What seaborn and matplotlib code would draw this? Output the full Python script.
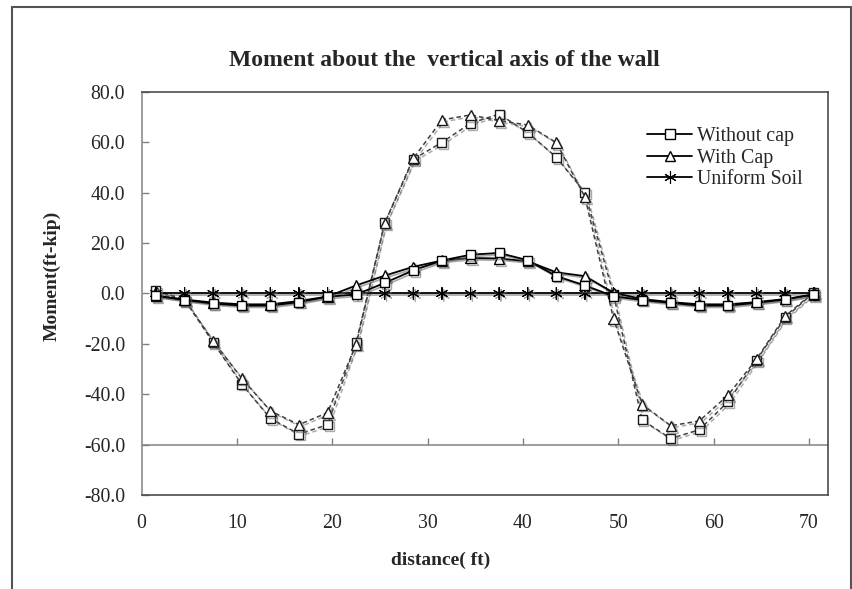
import matplotlib
matplotlib.use("Agg")
import matplotlib.pyplot as plt
import matplotlib.patheffects as pe
from matplotlib.patches import Rectangle
import seaborn as sns

# distance along the wall (ft)
distance = [1.5, 4.5, 7.5, 10.5, 13.5, 16.5, 19.5, 22.5, 25.5, 28.5, 31.5, 34.5,
            37.5, 40.5, 43.5, 46.5, 49.5, 52.5, 55.5, 58.5, 61.5, 64.5, 67.5, 70.5]

# moment (ft-kip), small-amplitude case (solid lines)
without_cap = [-0.8, -2.6, -4.0, -4.8, -4.8, -3.4, -1.3, -0.4, 4.2, 9.2, 13.1, 15.4,
               16.1, 13.2, 6.9, 3.2, -1.1, -2.6, -3.7, -4.8, -4.8, -3.7, -2.4, -0.4]
with_cap = [-1.0, -2.4, -3.6, -4.3, -4.3, -3.0, -1.2, 3.2, 7.1, 10.6, 13.1, 14.1,
            13.9, 12.8, 8.4, 6.9, 0.3, -2.2, -3.4, -4.3, -4.3, -3.4, -2.2, -0.4]
uniform_soil = [0.0] * 24

# moment (ft-kip), large-amplitude case (dashed lines)
without_cap_2 = [1.2, -2.4, -19.5, -36.0, -49.6, -55.8, -52.1, -19.5, 28.0, 53.3, 60.0, 67.6,
                 71.2, 63.9, 54.1, 40.1, -0.5, -50.2, -57.6, -54.1, -43.0, -26.5, -9.6, 0.3]
with_cap_2 = [1.0, -2.5, -18.9, -33.7, -46.6, -52.1, -47.3, -20.2, 28.0, 53.7, 68.9, 70.9,
              68.6, 66.9, 59.9, 38.3, -10.0, -44.0, -52.5, -50.6, -40.4, -26.1, -9.0, 0.5]

y_ticks = [-80, -60, -40, -20, 0, 20, 40, 60, 80]
x_ticks = [0, 10, 20, 30, 40, 50, 60, 70]

sns.set_theme(style="white")
plt.rcParams["font.family"] = ["Liberation Serif", "DejaVu Serif"]

fig = plt.figure(figsize=(8.53, 5.89), dpi=100)
ax = fig.add_axes([0.1661, 0.1596, 0.8046, 0.6842])

shadow = [pe.SimpleLineShadow(offset=(1.3, -1.3), shadow_color="0.4", alpha=0.55), pe.Normal()]
asterisk = (6, 2, 0)

dash_kw = dict(color="0.25", linewidth=1.1, markerfacecolor="white",
               markeredgecolor="0.1", markeredgewidth=1.0, legend=False)
sns.lineplot(x=distance, y=without_cap_2, ax=ax, marker="s", markersize=6.5,
             linestyle=(0, (3, 2)), **dash_kw)
sns.lineplot(x=distance, y=with_cap_2, ax=ax, marker="^", markersize=7.5,
             linestyle=(0, (3, 2)), **dash_kw)

solid_kw = dict(color="black", linewidth=1.3, markerfacecolor="white",
                markeredgecolor="black")
sns.lineplot(x=distance, y=uniform_soil, ax=ax, marker=asterisk, markersize=9,
             markeredgewidth=0.8, label="Uniform Soil", **solid_kw)
sns.lineplot(x=distance, y=with_cap, ax=ax, marker="^", markersize=7.5,
             markeredgewidth=1.0, label="With Cap", **solid_kw)
sns.lineplot(x=distance, y=without_cap, ax=ax, marker="s", markersize=6.5,
             markeredgewidth=1.0, label="Without cap", **solid_kw)

for ln in ax.get_lines():
    ln.set_path_effects(shadow)

ax.set_xlim(0, 72)
ax.set_ylim(-80, 80)
ax.set_yticks(y_ticks)
ax.set_yticklabels([f"{v:.1f}" for v in y_ticks])
ax.set_xticks(x_ticks)
ax.set_xticklabels([str(v) for v in x_ticks])
ax.tick_params(axis="y", direction="in", length=5, width=1, color="0.5",
               labelsize=14.3, pad=12, left=True)
ax.tick_params(axis="x", length=0, labelsize=14.3, pad=14, bottom=True)

for side in ["top", "right", "bottom"]:
    ax.spines[side].set_color("0.3")
    ax.spines[side].set_linewidth(1.2)
ax.spines["left"].set_color("0.55")
ax.spines["left"].set_linewidth(1.2)

# category axis crossing the value axis at -60
cross = ax.secondary_xaxis((-60 - (-80)) / 160)
cross.set_xticks(x_ticks[1:])
cross.tick_params(direction="in", length=5, width=1, color="0.5", labelbottom=False)
cross.spines["bottom"].set_color("0.55")
cross.spines["bottom"].set_linewidth(1.2)

ax.set_xlabel("")
ax.set_ylabel("")
fig.text(441 / 853, 1 - 560 / 589, "distance( ft)", ha="center", va="center",
         fontsize=14, fontweight="bold")
fig.text(52 / 853, 1 - 276 / 589, "Moment(ft-kip)", ha="center", va="center",
         rotation=90, fontsize=14, fontweight="bold")
fig.text(444 / 853, 1 - 60 / 589, "Moment about the  vertical axis of the wall",
         ha="center", va="center", fontsize=17, fontweight="bold")

handles, labels = ax.get_legend_handles_labels()
order = ["Without cap", "With Cap", "Uniform Soil"]
hmap = dict(zip(labels, handles))
leg = ax.legend([hmap[k] for k in order], order, loc="upper left",
                bbox_to_anchor=(0.736, 0.913), frameon=False, fontsize=14.3,
                handlelength=2.3, handletextpad=0.25, labelspacing=0.13,
                borderpad=0, borderaxespad=0)
for h in leg.legend_handles:
    h.set_path_effects([])

fig.patches.append(Rectangle((12 / 853, -0.02), (851 - 12) / 853, 1 - 6.7 / 589 + 0.02,
                             transform=fig.transFigure, fill=False,
                             edgecolor="0.33", linewidth=1.5))

fig.savefig("out.png", dpi=100)
